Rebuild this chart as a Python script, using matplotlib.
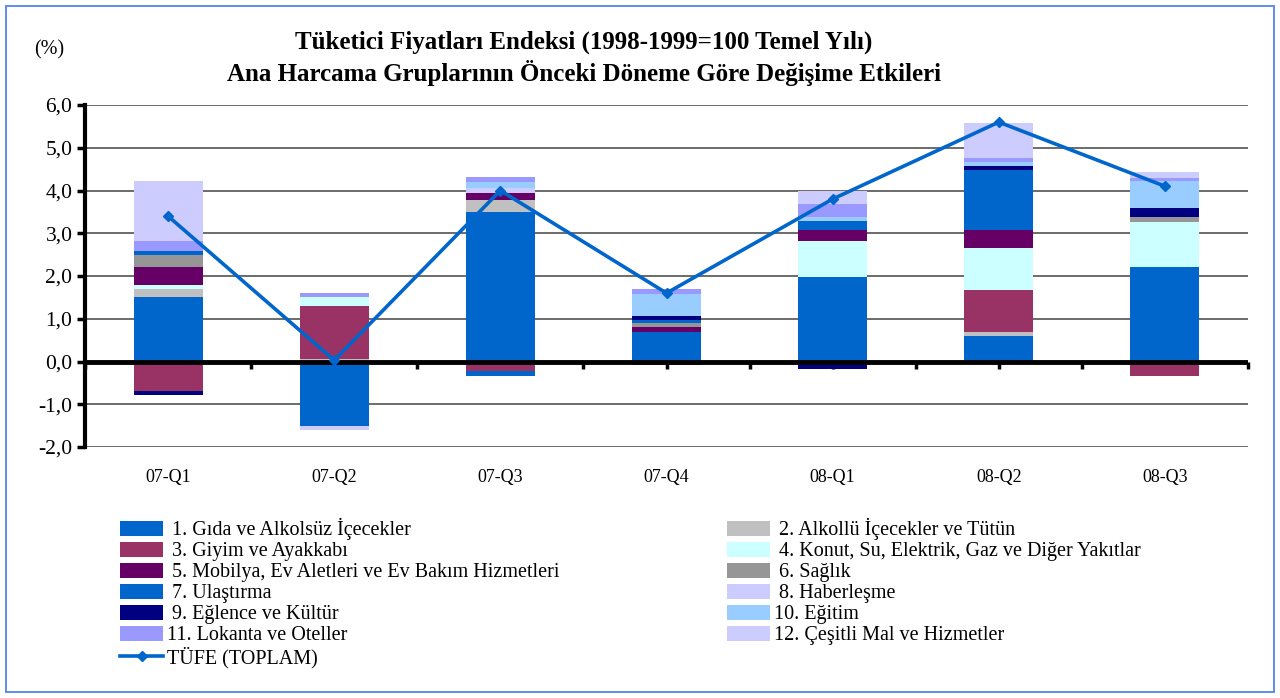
import numpy as np
import matplotlib.pyplot as plt
from matplotlib.patches import Rectangle

plt.rcParams['font.family'] = ['Liberation Serif', 'DejaVu Serif']

quarters = ['07-Q1', '07-Q2', '07-Q3', '07-Q4', '08-Q1', '08-Q2', '08-Q3']

group_names = [
    ' 1. Gıda ve Alkolsüz İçecekler',
    ' 2. Alkollü İçecekler ve Tütün',
    ' 3. Giyim ve Ayakkabı',
    ' 4. Konut, Su, Elektrik, Gaz ve Diğer Yakıtlar',
    ' 5. Mobilya, Ev Aletleri ve Ev Bakım Hizmetleri',
    ' 6. Sağlık',
    ' 7. Ulaştırma',
    ' 8. Haberleşme',
    ' 9. Eğlence ve Kültür',
    '10. Eğitim',
    '11. Lokanta ve Oteller',
    '12. Çeşitli Mal ve Hizmetler',
]

gida = [1.50, -1.50, 3.50, 0.70, 1.97, 0.60, 2.20]
alkollu = [0.20, 0.05, 0.27, 0.00, 0.00, 0.09, 0.00]
giyim = [-0.68, 1.25, -0.23, -0.08, -0.05, 0.98, -0.33]
konut = [0.08, 0.20, 0.00, 0.00, 0.84, 0.99, 1.07]
mobilya = [0.43, 0.00, 0.18, 0.10, 0.27, 0.42, 0.00]
saglik = [0.27, 0.00, 0.00, 0.09, 0.00, 0.00, 0.10]
ulastirma = [0.10, 0.00, -0.10, 0.08, 0.20, 1.40, 0.00]
haberlesme = [0.00, -0.11, 0.10, 0.00, 0.00, 0.00, 0.00]
eglence = [-0.11, 0.00, 0.00, 0.10, -0.13, 0.09, 0.23]
egitim = [0.00, 0.00, 0.15, 0.50, 0.09, 0.10, 0.62]
lokanta = [0.23, 0.10, 0.12, 0.12, 0.32, 0.09, 0.08]
cesitli = [1.42, 0.00, 0.00, 0.00, 0.30, 0.83, 0.13]

tufe = [3.4, 0.03, 4.0, 1.6, 3.8, 5.6, 4.1]

colors = ['#0066CC', '#C0C0C0', '#993366', '#CCFFFF', '#660066', '#969696',
          '#0066CC', '#CCCCFF', '#000080', '#99CCFF', '#9999FF', '#CCCCFF']

series = [gida, alkollu, giyim, konut, mobilya, saglik,
          ulastirma, haberlesme, eglence, egitim, lokanta, cesitli]

W, H = 1280, 698
fig = plt.figure(figsize=(W / 100, H / 100), dpi=100)
ax = fig.add_axes([85 / W, 1 - 447 / H, (1248 - 85) / W, (447 - 105) / H])

x = np.arange(len(quarters))
pos_base = np.zeros(len(quarters))
neg_base = np.zeros(len(quarters))
bars = []
for vals, col in zip(series, colors):
    v = np.array(vals)
    p = np.where(v > 0, v, 0)
    n = np.where(v < 0, v, 0)
    b = ax.bar(x, p, bottom=pos_base, width=0.415, color=col, zorder=2)
    ax.bar(x, n, bottom=neg_base, width=0.415, color=col, zorder=2)
    pos_base += p
    neg_base += n
    bars.append(b)

line, = ax.plot(x, tufe, color='#0066CC', lw=2.6, marker='D', ms=5,
                zorder=4)

ax.set_xlim(-0.5, len(quarters) - 0.5)
ax.set_ylim(-2, 6)
ax.set_yticks(np.arange(-2, 7, 1))
ax.set_yticklabels([f'{v:.1f}'.replace('.', ',') for v in np.arange(-2, 7, 1)],
                   fontsize=15.5)
ax.yaxis.grid(True, color='#444444', lw=1.1, zorder=0)
ax.set_axisbelow(True)
for s in ['top', 'right', 'bottom']:
    ax.spines[s].set_visible(False)
ax.spines['left'].set_linewidth(3)
ax.tick_params(axis='y', direction='out', length=6, width=2.5, pad=3)

ax.set_xticks(x)
ax.set_xticklabels(quarters, fontsize=13)
ax.tick_params(axis='x', length=0, pad=16)

# zero line with half-category ticks
ax.axhline(0, color='black', lw=3.5, zorder=3)
zero_ax = ax.secondary_xaxis(0.25)
zero_ax.set_xticks(np.arange(-0.5, len(quarters), 0.5))
zero_ax.set_xticklabels([])
zero_ax.tick_params(direction='out', length=5, width=2.5)
zero_ax.spines['bottom'].set_visible(False)

fig.text(584 / W, 1 - 42 / H, 'Tüketici Fiyatları Endeksi (1998-1999=100 Temel Yılı)',
         ha='center', va='center', fontsize=18, fontweight='bold')
fig.text(584 / W, 1 - 73 / H, 'Ana Harcama Gruplarının Önceki Döneme Göre Değişime Etkileri',
         ha='center', va='center', fontsize=18, fontweight='bold')
fig.text(49 / W, 1 - 50 / H, '(%)', ha='center', va='center', fontsize=14.5)

# legends
left_h = [bars[i] for i in (0, 2, 4, 6, 8, 10)] + [line]
left_l = [group_names[i] for i in (0, 2, 4, 6, 8, 10)] + ['TÜFE (TOPLAM)']
right_h = [bars[i] for i in (1, 3, 5, 7, 9, 11)]
right_l = [group_names[i] for i in (1, 3, 5, 7, 9, 11)]

kw = dict(frameon=False, fontsize=14.5, handlelength=2.15, handleheight=0.75,
          labelspacing=0.08, handletextpad=0.2, borderpad=0, borderaxespad=0,
          loc='upper left')
leg1 = fig.legend(left_h, left_l, bbox_to_anchor=(120 / W, 1 - 518 / H), **kw)
leg2 = fig.legend(right_h, right_l, bbox_to_anchor=(727 / W, 1 - 518 / H), **kw)

fig.patches.append(Rectangle((6 / W, 6 / H), (1274 - 6) / W, (692 - 6) / H,
                             transform=fig.transFigure, fill=False,
                             edgecolor='#4477EE', lw=1.2))

fig.savefig('out.png', dpi=100)
